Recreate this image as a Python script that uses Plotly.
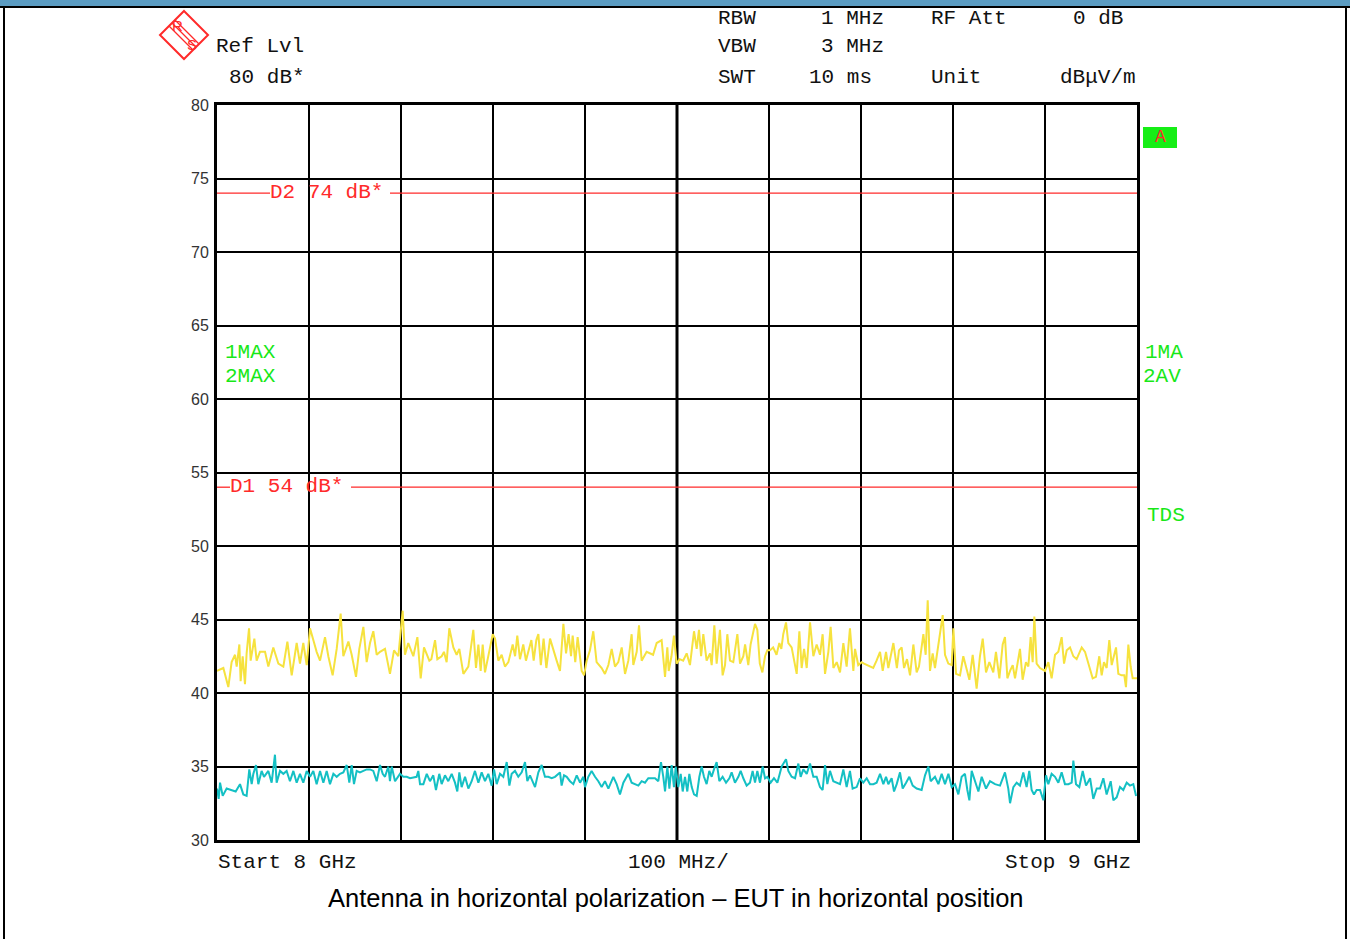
import plotly.graph_objects as go

W, H = 1350, 939

# ---------------- data ----------------
start_ghz = 8.0
stop_ghz = 9.0

# Trace 1 (max hold, yellow): frequency offset from start in MHz, level in dBuV/m
max_offset_mhz = [0, 6.9, 12.3, 15.9, 19.6, 21.4, 24.3, 25.7, 27.9, 30.4, 32.2, 34.8, 36.6, 40.6, 43.1, 46.7,
    52.2, 55.8, 61.2, 66.7, 72.1, 76.5, 81.2, 86.6, 90.2, 93.8, 97.5, 101.1, 104.7, 108.3, 112.0, 117.4,
    121.0, 125.7, 130.1, 134.4, 137.3, 142.8, 146.4, 151.1, 154.7, 159.1, 162.7, 166.3, 169.9, 173.6,
    177.2, 182.6, 188.0, 192.4, 197.1, 201.8, 204.3, 207.9, 213.4, 217.8, 221.4, 225, 230.8, 233, 237,
    239.5, 244.2, 246.7, 249.6, 252.5, 256.9, 260.5, 263.4, 267.8, 273.2, 278.6, 281.5, 284.1, 286.6,
    288.8, 291.3, 294.9, 299.7, 302.2, 305.8, 309.4, 313.0, 316.7, 321.4, 324, 326.4, 329.3, 332.9,
    335.8, 338.5, 341.7, 344.2, 347.1, 349.3, 352, 355, 358, 362, 365.6, 369.2, 372.8, 376.5, 379.4,
    382.2, 384.8, 386.6, 389.4, 392.0, 396.4, 399, 401.8, 405.4, 409, 412.6, 418.1, 421.7, 425.4, 429,
    432.6, 436.2, 439.9, 443.5, 447.1, 450.7, 452.5, 456.2, 458.7, 461.6, 467, 474, 477.9, 483.3, 487,
    489.5, 491, 494, 496.7, 499.6, 503, 506.7, 510.5, 514.1, 518.5, 521.4, 523.9, 526.2, 528.6, 532.2,
    535.9, 537.7, 540.6, 543.1, 546.7, 549.6, 552.2, 554.7, 557.6, 561.2, 565.6, 568.5, 572.1, 574,
    577.5, 580, 584.8, 587.3, 590, 592.8, 595.7, 598.2, 601, 604.5, 608.2, 611.2, 613.4, 615.5, 618.5,
    621, 624.6, 630.1, 633, 635.5, 638.1, 641, 644.6, 648.2, 651.8, 655.4, 658.3, 660.9, 664.5, 667,
    670, 673.6, 677.2, 680.8, 684.4, 688, 691.7, 693.5, 697, 700.7, 703.3, 709.8, 713.3, 716.9, 720.7,
    723.6, 727.2, 729.7, 733.3, 735.2, 739, 741.3, 744.2, 746.8, 750, 753.3, 756.9, 760.5, 763, 767.8,
    770.3, 772.5, 775, 777.9, 780.4, 782.9, 785.9, 788.8, 791.3, 794.9, 798.6, 800.4, 803.3, 807.6,
    811.2, 814.1, 817.8, 821.4, 825.7, 829.3, 832.3, 835.9, 839.5, 843.8, 846.7, 850.4, 854, 856.5,
    859.1, 862, 864.9, 867.4, 870, 872.8, 875.7, 879.3, 881.9, 884.4, 886.6, 888.4, 890.9, 894.6, 900,
    903.6, 907.2, 910.9, 914.5, 918.1, 920.7, 923.6, 927.2, 930.8, 934.4, 939.9, 943.5, 948.2, 951.8,
    955.4, 959, 961.6, 964.1, 967, 969.9, 972.5, 977.2, 979.7, 983.3, 986.2, 988, 990.6, 993.1, 995.3,
    997.8, 1000]
max_level = [41.5, 41.7, 40.4, 42.1, 42.6, 41.8, 43.3, 40.8, 42.5, 40.6, 42.7, 44.4, 42.2, 43.7, 42.2, 42.8,
    42.8, 41.8, 43.1, 42.0, 41.8, 43.5, 41.2, 43.4, 42.0, 43.4, 41.9, 44.4, 43.6, 42.8, 42.2, 43.8,
    42.5, 41.2, 43.0, 45.4, 42.5, 43.5, 42.6, 41.1, 43.0, 44.5, 42.1, 43.4, 44.2, 42.6,
    42.8, 43.0, 41.3, 42.9, 42.5, 45.6, 42.6, 43.4, 42.5, 43.8, 41.0, 43.1, 42.2, 42.3, 43.6,
    42.3, 42.5, 42.8, 42.1, 44.4, 43.1, 42.6, 43.0, 41.3, 41.8, 44.3, 41.7, 43.3, 41.5,
    43.3, 41.4, 42.5, 44.0, 43.7, 42.2, 42.6, 41.8, 42.1, 43.3, 42.5, 43.9, 42.3, 43.3,
    42.2, 42.9, 43.6, 42.2, 43.6, 44.0, 41.9, 43.7, 41.7, 43.7, 42.9, 42.2, 41.5, 44.7, 42.7,
    44.0, 42.5, 43.9, 42.1, 43.8, 41.5, 41.2, 42.2, 42.9, 44.2, 42.1, 41.7, 41.3, 41.9, 43.0,
    41.8, 42.1, 43.1, 41.3, 42.2, 44.0, 41.9, 42.8, 44.6, 42.2, 42.8, 42.6, 43.4, 43.6, 41.1,
    43.1, 41.5, 42.5, 43.9, 42.0, 42.3, 42.2, 42.7, 41.9, 44.2, 43.0, 44.3, 42.5, 44.0, 42.2,
    42.7, 41.9, 44.6, 42.0, 44.3, 41.2, 41.9, 44.0, 42.2, 42.1, 44.0, 42.0, 42.5, 43.3,
    41.9, 43.3, 44.7, 44.3, 42.0, 41.4, 42.5, 42.9, 42.9, 43.1, 42.6, 43.4, 43.0, 44.0, 44.8,
    43.4, 43.1, 41.3, 44.2, 41.7, 43.0, 41.7, 44.8, 42.5, 43.3, 42.6, 44.0, 41.3, 42.8, 44.5,
    41.7, 42.1, 41.4, 43.4, 41.8, 44.4, 41.5, 43.0, 41.9, 42.1, 42.0, 41.8, 41.7, 42.2, 42.8,
    41.5, 42.8, 41.7, 43.0, 43.4, 41.7, 42.9, 43.1, 41.7, 42.3, 41.2, 43.3, 41.4, 41.8, 44.0,
    42.6, 46.3, 41.5, 42.7, 41.7, 42.7, 44.2, 45.3, 42.6, 42.0, 41.9, 44.4, 41.3, 41.2,
    42.5, 41.7, 40.9, 42.6, 40.3, 42.5, 43.7, 41.4, 42.1, 41.4, 42.8, 41.0, 43.3, 43.8,
    41.0, 41.5, 41.9, 41.0, 42.1, 43.0, 40.9, 42.1, 41.8, 43.8, 42.1, 45.2, 42.0, 41.7, 41.5,
    42.1, 41.0, 42.6, 42.8, 43.8, 42.0, 42.9, 43.1, 42.5, 42.3, 43.1, 42.8, 41.7, 41.0,
    41.1, 42.5, 41.2, 42.1, 41.7, 43.6, 41.9, 43.1, 41.3, 41.2, 41.2, 40.4, 43.3, 41.8, 41.0,
    41.0, 41.0]

# Trace 2 (average, cyan)
avg_offset_mhz = [0, 1.8, 3.3, 6.2, 10.5, 14.9, 20.3, 25, 28.6, 32.2, 35.1, 37.7, 39.5, 42.4, 44.9, 48.5,
    51.1, 55.8, 59.4, 63, 64.8, 68.5, 72.1, 75.7, 79.3, 83, 86.6, 90.2, 93.8, 97.5, 101.1, 104.7,
    108.3, 112, 115.6, 119.2, 122.8, 126.5, 130.1, 133.7, 137.3, 141, 143.8, 146.4, 148.9, 151.8,
    155.4, 159.1, 162.7, 166.3, 169.9, 173.6, 177.2, 180.1, 182.6, 186.2, 188, 189.9, 193.5, 198.9,
    202.5, 206.2, 209.8, 217, 218.8, 220.7, 224.3, 228, 231.5, 235.1, 238, 241.6, 244.2, 247.8, 251.4,
    255.1, 258.7, 261.2, 263.4, 265.9, 269.6, 273.2, 276.8, 280.4, 284.1, 287.7, 291.3, 294.9, 298.6,
    301.1, 304, 307.6, 311.2, 314.9, 317.8, 320.3, 323.9, 327.5, 331.2, 334.8, 337.3, 340.2, 345.7,
    349.3, 352.9, 356.5, 360.1, 363.8, 367.4, 372.8, 374.6, 377.2, 380.1, 383.7, 387.3, 391, 394.6,
    398.2, 400, 403.6, 407.2, 410.9, 414.5, 418.1, 421.7, 425.4, 430.8, 434.4, 438, 441.7, 447.1,
    450.7, 454.3, 458, 461.6, 465.2, 468.8, 476.1, 479.7, 482.6, 485.1, 487, 489.5, 491.7, 494.2,
    496.7, 498.6, 501.4, 504, 506.2, 508.7, 511.2, 513.4, 516, 518.5, 521.4, 524.3, 526.8, 529.3,
    532.2, 535.1, 537.7, 540.2, 543.1, 546, 549.6, 553.3, 556.9, 559.4, 563, 566.7, 569.2, 572.1,
    575.7, 579.3, 582.2, 584.8, 587.3, 590.2, 593.1, 595.7, 598.2, 601.8, 605.4, 609.1, 613.8, 618.5,
    621, 624.6, 628.3, 631.9, 634.4, 637.3, 641, 644.6, 648.2, 651.8, 655.4, 658.3, 660.9, 663.4,
    666.3, 669.9, 673.6, 677.2, 680.8, 684.4, 688, 690.9, 695.3, 698.9, 702.5, 706.2, 709.8, 713.4,
    717, 720.7, 724.3, 727.2, 729.7, 733.3, 735.9, 738.8, 742.4, 745.3, 749, 752.5, 756.2, 760.5,
    765.9, 769.6, 773.2, 775.7, 780.4, 784.1, 787.7, 791.3, 795, 798.6, 802.2, 805.8, 809.4, 813,
    815.6, 817.8, 820.3, 823.9, 827.6, 831.2, 835.9, 840.2, 845.7, 851.1, 856.5, 860.1, 862, 865.6,
    869.2, 872.8, 876.4, 880, 882.9, 885.5, 888, 890.9, 894.6, 898.2, 901.1, 903.6, 907.2, 910.9,
    914.5, 918.1, 921.7, 925.4, 929, 930.8, 933.7, 937.3, 941, 944.6, 949, 952.5, 956.2, 959.8,
    963.4, 967, 971.4, 974.3, 977.9, 981.5, 985.1, 988.8, 992.4, 996, 999]
avg_level = [33.5, 32.8, 33.9, 33.0, 33.5, 33.4, 33.3, 33.8, 33.1, 33.0, 34.8, 33.8, 34.5, 35.1, 33.8, 34.7,
    34.3, 34.7, 33.9, 35.8, 33.9, 34.7, 34.5, 34.7, 34.0, 34.7, 33.9, 34.5, 33.9, 34.7, 34.3, 34.7,
    33.8, 34.7, 33.9, 34.7, 33.8, 34.5, 34.3, 34.5, 34.6, 35.1, 33.9, 35.1, 33.8, 34.7,
    34.6, 34.7, 34.8, 34.8, 34.7, 34.0, 35.1, 34.5, 34.3, 35.0, 34.0, 35.0, 34.0, 34.5,
    34.3, 34.3, 34.2, 34.3, 34.7, 33.8, 33.8, 34.5, 34.0, 34.4, 33.4, 34.5, 33.8, 34.4, 34.0,
    34.5, 33.9, 33.3, 34.6, 33.6, 34.3, 33.5, 34.0, 34.7, 33.9, 34.6, 34.0, 34.5, 33.7,
    34.8, 33.8, 34.5, 34.3, 35.3, 33.7, 34.5, 34.7, 34.3, 34.6, 35.3, 34.0, 34.4, 33.6,
    34.6, 35.1, 34.3, 34.3, 34.2, 34.3, 34.6, 33.7, 34.4, 34.3, 34.0, 33.8, 34.4, 33.9,
    34.3, 33.6, 34.3, 34.7, 34.3, 34.0, 33.6, 34.0, 33.5, 34.3, 33.8, 33.1, 33.9, 34.5,
    33.9, 33.8, 33.7, 34.0, 33.9, 34.2, 34.2, 34.0, 35.3, 34.3, 33.3, 35.0, 33.5, 35.1,
    33.6, 35.0, 33.6, 34.5, 33.3, 34.3, 33.3, 34.5, 33.6, 33.1, 33.0, 34.3, 35.0, 34.3,
    33.8, 34.7, 34.3, 34.8, 35.3, 34.0, 34.3, 33.9, 34.2, 34.6, 33.9, 34.3, 34.7, 34.2,
    33.7, 33.9, 34.7, 33.9, 34.7, 33.9, 35.0, 34.2, 34.3, 33.9, 34.2, 33.9, 35.0, 35.5,
    34.7, 34.3, 34.2, 35.2, 34.3, 34.8, 34.5, 35.2, 34.3, 34.3, 33.6, 33.4, 35.1, 33.8,
    34.7, 34.0, 33.9, 33.8, 34.8, 33.6, 34.7, 33.5, 33.6, 34.2, 33.9, 34.2, 33.8, 33.8,
    33.9, 34.5, 33.8, 34.3, 33.8, 34.2, 33.3, 33.8, 34.6, 33.5, 33.9, 34.3, 33.7, 33.5,
    33.4, 34.4, 35.0, 34.0, 34.3, 33.8, 34.5, 33.8, 34.5, 33.6, 33.8, 33.1, 34.3, 34.5,
    33.4, 32.7, 34.7, 34.0, 33.3, 34.3, 33.5, 34.0, 33.8, 33.7, 34.6, 33.5, 32.5, 33.6,
    33.9, 33.7, 34.6, 33.6, 34.7, 33.4, 33.1, 33.4, 33.4, 32.7, 34.4, 33.8, 34.5, 34.3,
    33.9, 34.6, 33.8, 33.8, 33.9, 35.4, 33.8, 33.6, 34.7, 33.7, 34.2, 32.8, 33.5, 33.5,
    34.2, 33.1, 34.0, 32.7, 32.9, 33.6, 33.4, 33.9, 33.7, 33.8, 33.0]

# Display lines
display_lines = [("D2", 74), ("D1", 54)]
y_ticks = [30, 35, 40, 45, 50, 55, 60, 65, 70, 75, 80]

# ---------------- layout helpers ----------------
X0, X1 = 217, 1137   # plot area in pixels
Y0, Y1 = 105, 840


def px(x):
    return x / W


def py(y):
    return 1 - y / H


def to_ghz(offs):
    return [start_ghz + o / 1000.0 for o in offs]


MONO = "Liberation Mono, DejaVu Sans Mono, monospace"
SANS = "Liberation Sans, Arial, sans-serif"
RED = "#ff2a2a"
GREEN = "#18e818"
MSIZE = 21

fig = go.Figure()
fig.add_trace(go.Scatter(x=to_ghz(max_offset_mhz), y=max_level, mode="lines",
                         line=dict(color="#f6e23e", width=2), hoverinfo="skip", showlegend=False))
fig.add_trace(go.Scatter(x=to_ghz(avg_offset_mhz), y=avg_level, mode="lines",
                         line=dict(color="#14c0c4", width=2), hoverinfo="skip", showlegend=False))

shapes = []
annotations = []

# thicker centre grid line
shapes.append(dict(type="line", xref="x", yref="y", x0=8.5, x1=8.5, y0=30, y1=80,
                   line=dict(color="black", width=3), layer="below"))

# display lines with labels
label_px = {"D2": (270, 390), "D1": (230, 351)}
for name, lvl in display_lines:
    a, b = label_px[name]
    ga = start_ghz + (a - X0) / (X1 - X0)
    gb = start_ghz + (b - X0) / (X1 - X0)
    shapes.append(dict(type="line", xref="x", yref="y", x0=start_ghz, x1=ga, y0=lvl, y1=lvl,
                       line=dict(color=RED, width=1.3)))
    shapes.append(dict(type="line", xref="x", yref="y", x0=gb, x1=stop_ghz, y0=lvl, y1=lvl,
                       line=dict(color=RED, width=1.3)))
    annotations.append(dict(x=ga, y=lvl, xref="x", yref="y", xanchor="left", yanchor="middle",
                            text=f"{name} {lvl} dB*", showarrow=False, yshift=1, xshift=-2,
                            font=dict(family=MONO, size=MSIZE, color=RED)))


def txt(text, x, y, color="#111", size=MSIZE, family=MONO, anchor="left"):
    annotations.append(dict(x=px(x), y=py(y), xref="paper", yref="paper", xanchor=anchor,
                            yanchor="middle", text=text, showarrow=False,
                            font=dict(family=family, size=size, color=color)))


# header texts
txt("RBW", 716, 18)
txt("1 MHz", 819, 18)
txt("RF Att", 929, 18)
txt("0 dB", 1071, 18)
txt("VBW", 716, 47)
txt("3 MHz", 819, 47)
txt("SWT", 716, 77)
txt("10 ms", 807, 77)
txt("Unit", 929, 77)
txt("dBμV/m", 1058, 77)
txt("Ref Lvl", 214, 47)
txt("80 dB*", 227, 77)

# trace labels
txt("1MAX", 223, 352, GREEN)
txt("2MAX", 223, 376, GREEN)
txt("1MA", 1143, 352, GREEN)
txt("2AV", 1141, 376, GREEN)
txt("TDS", 1145, 515, GREEN)

# bottom labels
txt("Start 8 GHz", 216, 862)
txt("100 MHz/", 626, 862)
txt("Stop 9 GHz", 1003, 862)

# caption
txt("Antenna in horizontal polarization – EUT in horizontal position", 676, 898,
    "#000", 25.5, SANS, "center")

# green "A" box
shapes.append(dict(type="rect", xref="paper", yref="paper", x0=px(1143), x1=px(1177),
                   y0=py(148), y1=py(127), fillcolor="#16ee16", line=dict(width=0)))
txt("A", 1160, 137, RED, 18, MONO, "center")

# R&S logo
cx, cy, r = 184, 35, 24
path = (f"M {px(cx)} {py(cy - r)} L {px(cx + r)} {py(cy)} L {px(cx)} {py(cy + r)} "
        f"L {px(cx - r)} {py(cy)} Z")
shapes.append(dict(type="path", xref="paper", yref="paper", path=path,
                   line=dict(color=RED, width=2)))
for d in (-3, 0, 3):
    shapes.append(dict(type="line", xref="paper", yref="paper",
                       x0=px(cx - 12 + d), y0=py(cy - 12 - d),
                       x1=px(cx + 12 + d), y1=py(cy + 12 - d),
                       line=dict(color=RED, width=1.2)))
txt("R", 177, 26, RED, 15, SANS, "center")
txt("S", 192, 44, RED, 15, SANS, "center")

# page frame: blue title bar and black borders
shapes.append(dict(type="rect", xref="paper", yref="paper", x0=0, x1=1, y0=py(6), y1=1,
                   fillcolor="#5b9cc2", line=dict(width=0)))
shapes.append(dict(type="line", xref="paper", yref="paper", x0=0, x1=1, y0=py(7), y1=py(7),
                   line=dict(color="black", width=2)))
shapes.append(dict(type="line", xref="paper", yref="paper", x0=px(4), x1=px(4), y0=0, y1=py(7),
                   line=dict(color="black", width=2)))
shapes.append(dict(type="line", xref="paper", yref="paper", x0=px(1346), x1=px(1346), y0=0, y1=py(7),
                   line=dict(color="black", width=2)))

fig.update_layout(
    width=W, height=H,
    margin=dict(l=0, r=0, t=0, b=0, pad=0),
    paper_bgcolor="white", plot_bgcolor="white",
    shapes=shapes, annotations=annotations,
    showlegend=False,
    xaxis=dict(domain=[px(X0), px(X1)], range=[start_ghz, stop_ghz], dtick=0.1, tick0=start_ghz,
               showgrid=True, gridcolor="black", gridwidth=1.5, zeroline=False,
               showticklabels=False, ticks="", showline=True, mirror=True, automargin=False,
               linecolor="black", linewidth=3, fixedrange=True),
    yaxis=dict(domain=[py(Y1), py(Y0)], range=[30, 80], tickvals=y_ticks,
               ticktext=[str(v) for v in y_ticks], automargin=False,
               showgrid=True, gridcolor="black", gridwidth=1.5, zeroline=False,
               ticks="", showline=True, mirror=True, linecolor="black", linewidth=3,
               tickfont=dict(family=SANS, size=16, color="#333"), ticklabelstandoff=2,
               fixedrange=True),
)

fig.write_html(
    "out.html",
    config={"displayModeBar": False},
    post_script="document.body.style.margin='0';document.body.style.overflow='hidden';",
)
